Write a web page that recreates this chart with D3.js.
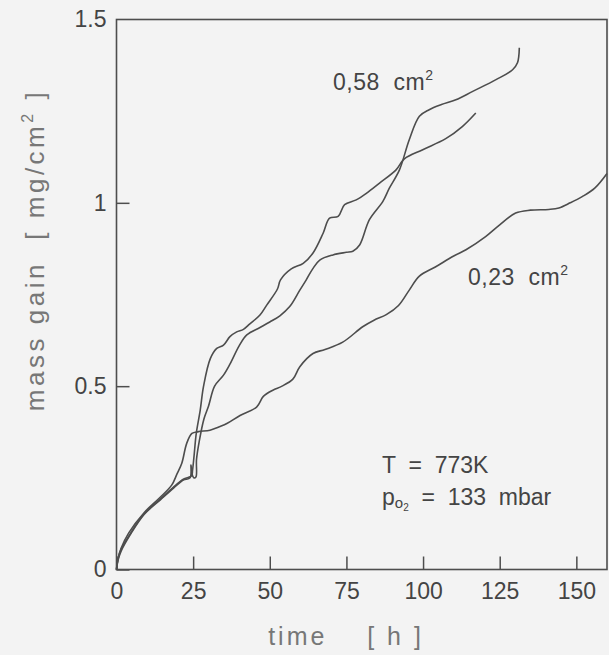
<!DOCTYPE html>
<html><head><meta charset="utf-8">
<script src="https://cdn.jsdelivr.net/npm/d3@7"></script>
<style>
body{margin:0;background:#f3f3f3}
svg{display:block}
text{font-family:"Liberation Sans",Arial,sans-serif}
</style>
</head><body><svg id="c" width="609" height="655"></svg>
<script>
// ---- data ----
const xTicks = [0, 25, 50, 75, 100, 125, 150];
const xTickLabels = ["0", "25", "50", "75", "100", "125", "150"];
const yTicks = [0, 0.5, 1, 1.5];
const yTickLabels = ["0", "0.5", "1", "1.5"];

// 0,58 cm² sample, run 1 (ends near 1.42)
const curveA = [[0,0],[0.5,0.025],[1.5,0.05],[4.5,0.095],[9,0.15],[14.3,0.19],[18.6,0.222],[21.8,0.244],[24,0.25],[24.3,0.285],[24.6,0.262],[25.2,0.25],[25.9,0.252],[26.1,0.3],[27,0.35],[28.5,0.41],[30,0.445],[32,0.5],[34.9,0.53],[37,0.56],[40,0.61],[42.5,0.64],[46.8,0.66],[50,0.675],[53.3,0.692],[56.5,0.717],[59.8,0.762],[61.9,0.79],[64,0.82],[66.3,0.844],[70.6,0.858],[75,0.865],[77.1,0.868],[79.3,0.885],[82.5,0.954],[86.9,1.004],[89,1.04],[92.3,1.09],[95.5,1.172],[98.8,1.236],[102,1.254],[106,1.268],[110.7,1.281],[116.2,1.304],[123.8,1.336],[129.2,1.363],[130.8,1.382],[131.4,1.423]];
// 0,58 cm² sample, run 2 (ends near 1.24)
const curveB = [[0,0],[0.5,0.03],[1.5,0.055],[4.5,0.098],[9,0.152],[14,0.19],[18.6,0.225],[21.8,0.246],[24.5,0.256],[24.8,0.27],[25.3,0.31],[26,0.37],[27.3,0.434],[28.4,0.5],[30.6,0.575],[32.7,0.603],[34.9,0.612],[37,0.635],[39.2,0.648],[41.4,0.655],[43.5,0.67],[46.8,0.694],[49,0.721],[52.5,0.765],[53.5,0.79],[57,0.82],[60.9,0.835],[64.1,0.863],[67.4,0.917],[69.5,0.958],[72.3,0.963],[74.4,0.995],[78.2,1.008],[81.5,1.026],[85.8,1.054],[91.2,1.09],[93.9,1.12],[99.9,1.145],[107.4,1.175],[112.8,1.208],[117.2,1.245]];
// 0,23 cm² sample
const curveC = [[0,0],[0.5,0.03],[1.5,0.058],[4,0.1],[9,0.155],[14,0.195],[18,0.23],[19.7,0.26],[21.3,0.29],[22.9,0.344],[24.6,0.371],[26.7,0.376],[30.5,0.38],[33.8,0.39],[36,0.398],[40.3,0.42],[45.7,0.443],[47.9,0.472],[51,0.489],[54,0.5],[57.6,0.52],[59.8,0.553],[64.1,0.589],[68,0.6],[73.8,0.62],[80.3,0.662],[84,0.68],[88,0.695],[92,0.72],[95.5,0.762],[98.8,0.8],[104,0.825],[110,0.855],[114,0.872],[120.4,0.908],[125,0.94],[130.2,0.972],[135,0.98],[141,0.982],[144.3,0.986],[148,1.0],[151.9,1.017],[156,1.04],[160,1.08]];
const curves = [curveA, curveB, curveC];

// ---- layout ----
const L = 116.5, R = 607, T = 19.5, B = 569.5;
const ink = "#4d4d4d";
const svg = d3.select("#c");
svg.append("rect").attr("width",609).attr("height",655).attr("fill","#f3f3f3");

const x = d3.scaleLinear().domain([0,160]).range([L,R]);
const y = d3.scaleLinear().domain([0,1.5]).range([B,T]);

// frame
svg.append("rect").attr("x",L).attr("y",T).attr("width",R-L).attr("height",B-T)
  .attr("fill","none").attr("stroke",ink).attr("stroke-width",1.6);

const xa = svg.append("g").attr("transform",`translate(0,${B})`)
  .call(d3.axisBottom(x).tickValues(xTicks).tickFormat((d,i)=>xTickLabels[i])
        .tickSizeInner(-13).tickSizeOuter(0).tickPadding(13));
const ya = svg.append("g").attr("transform",`translate(${L},0)`)
  .call(d3.axisLeft(y).tickValues(yTicks).tickFormat((d,i)=>yTickLabels[i])
        .tickSizeInner(-13).tickSizeOuter(0).tickPadding(10));
[xa,ya].forEach(g=>{
  g.select(".domain").remove();
  g.selectAll("line").attr("stroke",ink).attr("stroke-width",1.5);
  g.selectAll("text").attr("fill","#444").style("font-size","23px")
   .style("font-family","'Liberation Sans',Arial,sans-serif");
});
ya.select(".tick:last-of-type line").remove();

// curves
const line = d3.line().x(d=>x(d[0])).y(d=>y(d[1])).curve(d3.curveCatmullRom.alpha(0.5));
svg.append("g").selectAll("path").data(curves).join("path")
  .attr("d",line).attr("fill","none").attr("stroke",ink).attr("stroke-width",1.6)
  .attr("stroke-linejoin","round");

// axis titles
svg.append("text").attr("x",346).attr("y",645).attr("text-anchor","middle")
  .attr("fill","#777").style("font-size","25px").style("letter-spacing","3px")
  .attr("xml:space","preserve").text("time    [ h ]");
svg.append("text").attr("transform","translate(44,250) rotate(-90)").attr("text-anchor","middle")
  .attr("fill","#777").style("font-size","26px").style("letter-spacing","3.5px")
  .attr("xml:space","preserve")
  .call(t=>{
    t.append("tspan").text("mass gain  [ mg/cm");
    t.append("tspan").attr("dy",-11).style("font-size","16px").text("2");
    t.append("tspan").attr("dy",11).text(" ]");
  });

// annotations
function sup(sel, base, s){
  sel.append("tspan").text(base);
  sel.append("tspan").attr("dy",-10).style("font-size","14px").text(s);
}
svg.append("text").attr("x",333).attr("y",90).attr("fill","#444").style("font-size","23px")
  .style("letter-spacing","0.5px").attr("xml:space","preserve").call(t=>sup(t,"0,58  cm","2"));
svg.append("text").attr("x",468).attr("y",285).attr("fill","#444").style("font-size","23px")
  .style("letter-spacing","0.5px").attr("xml:space","preserve").call(t=>sup(t,"0,23  cm","2"));
svg.append("text").attr("x",382).attr("y",473).attr("fill","#444").style("font-size","23px")
  .attr("xml:space","preserve").text("T  =  773K");
svg.append("text").attr("x",382).attr("y",505).attr("fill","#444").style("font-size","23px")
  .attr("xml:space","preserve")
  .call(t=>{
    t.append("tspan").text("p");
    t.append("tspan").attr("dy",3).style("font-size","15px").text("o");
    t.append("tspan").attr("dy",3).style("font-size","10px").text("2");
    t.append("tspan").attr("dy",-6).text("  =  133  mbar");
  });
</script></body></html>
